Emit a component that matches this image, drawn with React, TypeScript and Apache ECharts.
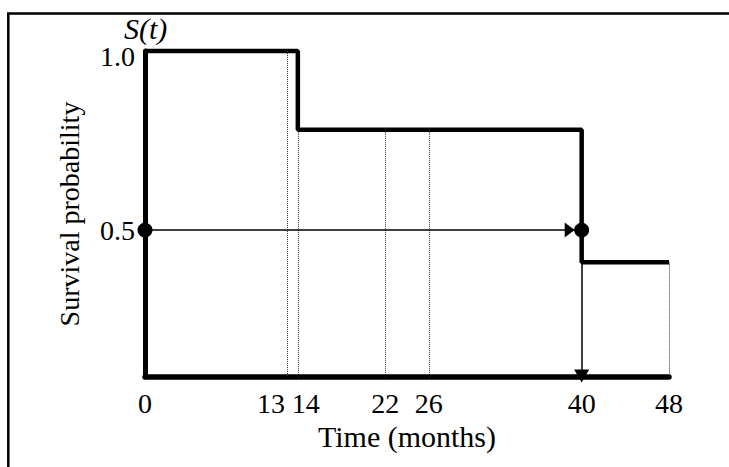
import React, { useEffect, useRef } from "react";
import * as echarts from "echarts";

// Kaplan–Meier estimate
const kmTimes = [0, 14, 40, 48];
const kmSurvival = [1.0, 0.78, 0.41, 0.41];
// observation times marked with dotted drop lines
const dropLineTimes = [13, 14, 22, 26, 48];
// tick labels
const xTickLabels = [0, 13, 14, 22, 26, 40, 48];
const yTickLabels = [0.5, 1.0];
// median survival
const medianSurvival = 0.5;
const medianTime = 40;
// axis extents
const yMin = 0.09;
const yMax = 1.0;
const xMin = 0;
const xMax = 48;

function survivalAt(t: number): number {
  let s = kmSurvival[0];
  for (let i = 0; i < kmTimes.length; i++) {
    if (kmTimes[i] <= t) s = kmSurvival[i];
  }
  return s;
}

const FONT = "'Liberation Serif', 'Times New Roman', serif";
const base = { fontFamily: FONT, fontSize: 28, color: "#000" };

export default function App() {
  const ref = useRef<HTMLDivElement>(null);

  useEffect(() => {
    if (!ref.current) return;
    const chart = echarts.init(ref.current, null, { renderer: "svg" });

    const option: any = {
      animation: false,
      backgroundColor: "#ffffff",
      grid: { left: 145, top: 51, right: 60, bottom: 90, containLabel: false },
      xAxis: {
        type: "value",
        min: xMin,
        max: xMax,
        name: "Time (months)",
        nameLocation: "middle",
        nameGap: 28,
        nameTextStyle: { fontFamily: FONT, fontSize: 30, color: "#000" },
        axisLine: { show: true, onZero: false, lineStyle: { color: "#000", width: 5.5 } },
        axisTick: { show: false },
        splitLine: { show: false },
        axisLabel: {
          customValues: xTickLabels,
          margin: 12,
          ...base,
          // the two crowded labels are pushed apart inside wider boxes
          formatter: (v: number) => {
            if (v === 13) return "{l|" + v + "}";
            if (v === 14) return "{r|" + v + "}";
            return "{n|" + v + "}";
          },
          rich: {
            l: { ...base, width: 60, align: "left" },
            r: { ...base, width: 44, align: "right" },
            n: { ...base },
          },
        },
      },
      yAxis: {
        type: "value",
        min: yMin,
        max: yMax,
        name: "Survival probability",
        nameLocation: "middle",
        nameGap: 62,
        nameRotate: 90,
        nameTextStyle: { fontFamily: FONT, fontSize: 28, color: "#000" },
        axisLine: { show: true, onZero: false, lineStyle: { color: "#000", width: 5 } },
        axisTick: { show: false },
        splitLine: { show: false },
        axisLabel: {
          customValues: yTickLabels,
          margin: 10,
          ...base,
          formatter: (v: number) =>
            v === yMax ? "{t|" + v.toFixed(1) + "}" : "{n|" + v.toFixed(1) + "}",
          rich: {
            t: { ...base, padding: [10, 0, 0, 0] },
            n: { ...base },
          },
        },
      },
      graphic: [
        {
          type: "rect",
          shape: { x: 8.3, y: 13.5, width: 900, height: 600 },
          style: { fill: "none", stroke: "#000", lineWidth: 2.5 },
          silent: true,
          z: 100,
        },
        {
          type: "text",
          x: 124,
          y: 28,
          style: {
            text: "S(t)",
            font: "italic 30px " + FONT,
            fill: "#000",
            verticalAlign: "middle",
          },
          z: 100,
        },
      ],
      series: [
        {
          type: "line",
          step: "end",
          data: kmTimes.map((t, i) => [t, kmSurvival[i]]),
          symbol: "none",
          clip: false,
          lineStyle: { color: "#000", width: 4.5 },
          z: 3,
          silent: true,
        },
        {
          type: "line",
          data: [],
          silent: true,
          markLine: {
            silent: true,
            symbol: ["none", "none"],
            label: { show: false },
            lineStyle: { color: "#333", width: 1, type: "dotted" },
            data: dropLineTimes.map((t) => [
              { coord: [t, survivalAt(t)] },
              { coord: [t, yMin] },
            ]),
          },
          z: 2,
        },
        {
          type: "line",
          data: [],
          silent: true,
          markLine: {
            silent: true,
            symbol: ["none", "triangle"],
            symbolSize: [15, 10],
            label: { show: false },
            lineStyle: { color: "#000", width: 1.5, type: "solid" },
            data: [
              [
                { coord: [xMin, medianSurvival], symbol: "none" },
                {
                  coord: [medianTime, medianSurvival],
                  symbol: "triangle",
                  symbolSize: [15, 10],
                  symbolOffset: [0, 12],
                },
              ],
              [
                { coord: [medianTime, medianSurvival], symbol: "none" },
                {
                  coord: [medianTime, yMin],
                  symbol: "triangle",
                  symbolSize: [15, 13],
                  symbolOffset: [0, 1],
                },
              ],
            ],
          },
          z: 4,
        },
        {
          type: "scatter",
          data: [
            [xMin, medianSurvival],
            [medianTime, medianSurvival],
          ],
          symbol: "circle",
          symbolSize: 15,
          clip: false,
          itemStyle: { color: "#000", opacity: 1 },
          silent: true,
          z: 5,
        },
      ],
    };

    chart.setOption(option);
    return () => chart.dispose();
  }, []);

  return (
    <div
      ref={ref}
      style={{ position: "fixed", left: 0, top: 0, width: 729, height: 467 }}
    />
  );
}
